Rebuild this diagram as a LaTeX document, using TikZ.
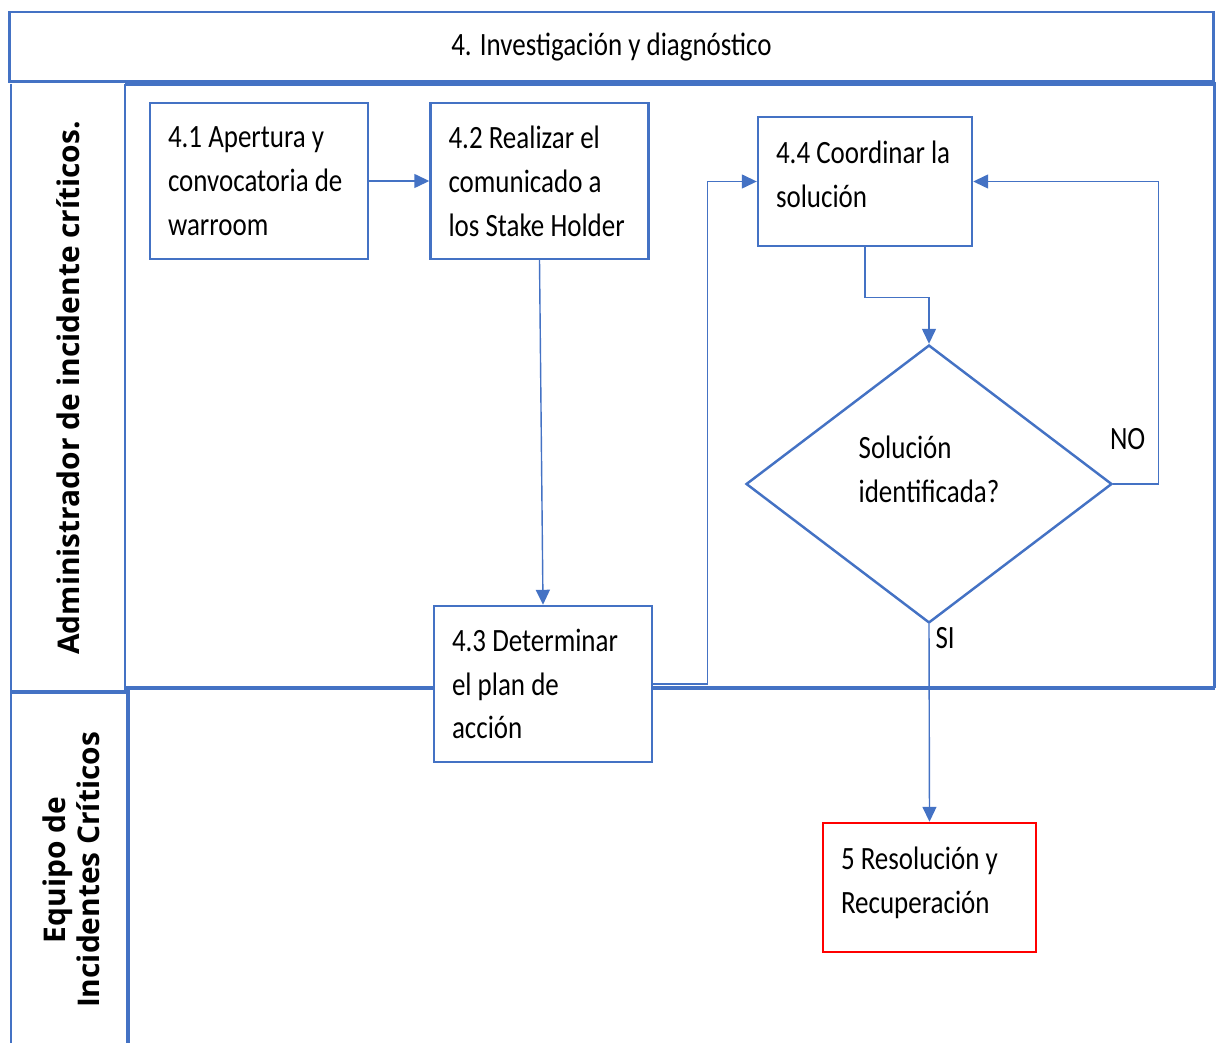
\documentclass[tikz,border=0pt]{standalone}
\usepackage{fontspec}
\setmainfont{Carlito}[FakeStretch=0.83, WordSpace=1.0]
\newfontfamily\lanefont{Open Sans}
\usetikzlibrary{arrows.meta}
\usetikzlibrary{shapes.geometric}
\definecolor{laneblue}{HTML}{4472C4}
\definecolor{endred}{HTML}{FF0000}
\tikzset{
  boxfont/.style={font=\fontsize{18.5}{25}\selectfont},
  stepbox/.style={
    boxfont, draw=laneblue, fill=white, line width=1.4pt, rectangle,
    minimum width=4.36cm, minimum height=3.12cm,
    text width=3.64cm, inner xsep=0.36cm, align=flush left
  },
  shortbox/.style={stepbox, minimum width=4.28cm, minimum height=2.58cm, text width=3.56cm},
  decision/.style={
    boxfont, draw=laneblue, fill=white, line width=1.4pt, diamond,
    minimum width=7.32cm, minimum height=5.56cm, inner sep=0pt, align=flush left
  },
  lanelabel/.style={font=\lanefont\bfseries\fontsize{17}{19.5}\selectfont, rotate=90, align=center},
  flow/.style={draw=laneblue, line width=0.8pt, -{Triangle[length=0.3cm,width=0.28cm]}},
  lbl/.style={boxfont}
}

\begin{document}
\begin{tikzpicture}[x=0.02cm, y=-0.02cm]
\useasboundingbox (0,0) rectangle (1217,1043);
\node[font=\fontsize{18.5}{25}\selectfont, draw=laneblue, line width=1.7pt, minimum width=24.1cm, minimum height=1.4cm] (title) at (611.5,47) {4. Investigación y diagnóstico};

\draw[laneblue, line width=1.2pt] (11,84) -- (11,1043);
\draw[laneblue, line width=1.2pt] (125,84) -- (125,690);
\draw[laneblue, line width=2.4pt] (125,84) -- (1214,84);
\draw[laneblue, line width=1.7pt] (1214,82) -- (1214,688);
\draw[laneblue, line width=2.4pt] (125,688) -- (1215,688);
\draw[laneblue, line width=2.4pt] (11,692) -- (128,692);
\draw[laneblue, line width=2pt] (128,690) -- (128,1043);

\node[lanelabel] (lane1) at (68,388) {Administrador de incidente críticos.};
\node[lanelabel] (lane2) at (71,870) {Equipo de\\Incidentes Críticos};

\node[stepbox] (t41) at (259,181) {4.1 Apertura y\\convocatoria de\\warroom};
\node[stepbox] (t42) at (539.5,181) {4.2 Realizar el\\comunicado a\\los Stake Holder};
\node[stepbox] (t43) at (543,684) {4.3 Determinar\\el plan de\\acción};
\node[shortbox] (t44) at (865,181.5) {4.4 Coordinar la\\solución\\[-16.5pt]\mbox{}};
\node[decision] (dec) at (929,484) {Solución\\identificada?\\[-8pt]\mbox{}};
\node[shortbox, draw=endred, minimum width=4.26cm, text width=3.54cm] (t5) at (929.5,887.5) {5 Resolución y\\Recuperación\\[-16.5pt]\mbox{}};

\draw[flow] (t41) -- (t42);
\draw[flow] (t42.south) -- (t43.north);
\draw[flow] (t43.east) -- ++(54,0) |- (t44.west);
\draw[flow] (t44.south) -- ++(0,50) -| (dec.north);
\draw[flow] (dec.east) -- node[lbl, above=0.55cm, xshift=-0.16cm] (no) {NO} ++(45,0) |- (t44.east);
\draw[flow] (dec.south) -- node[lbl, pos=0.07, right] (si) {SI} (t5.north);
\end{tikzpicture}
\end{document}
